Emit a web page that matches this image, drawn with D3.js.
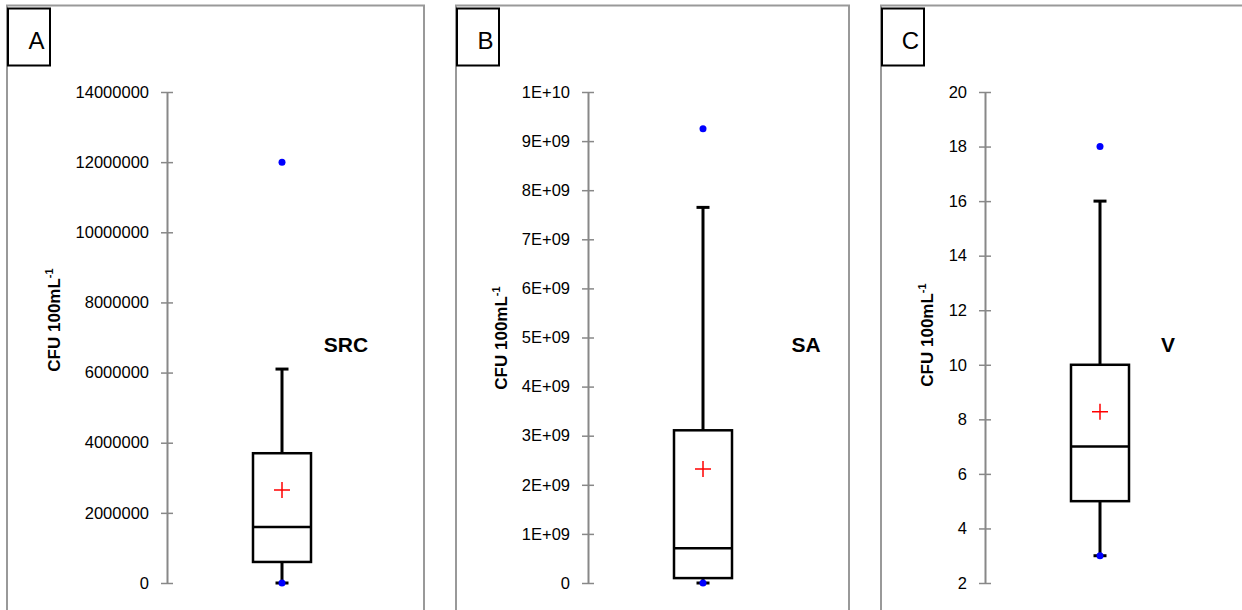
<!DOCTYPE html>
<html>
<head>
<meta charset="utf-8">
<script src="https://cdn.jsdelivr.net/npm/d3@7"></script>
<style>
  body { margin: 0; background: #fff; }
  text { font-family: "Liberation Sans", Arial, sans-serif; }
</style>
</head>
<body>
<div id="chart"></div>
<script>
  // Data

  const panelLetters = ["A", "B", "C"];
  const seriesNames = ["SRC", "SA", "V"];
  const minVals = [0, 0, 3];
  const q1Vals = [600000, 100000000, 5];
  const medianVals = [1600000, 710000000, 7];
  const q3Vals = [3700000, 3110000000, 10];
  const maxVals = [6100000, 7650000000, 16];
  const meanVals = [2650000, 2320000000, 8.28];
  const outlierVals = [12000000, 9250000000, 18];

  const yDomains = [[0, 14000000], [0, 10000000000], [2, 20]];
  const tickA = [0, 2000000, 4000000, 6000000, 8000000, 10000000, 12000000, 14000000];
  const tickB = [0, 1e9, 2e9, 3e9, 4e9, 5e9, 6e9, 7e9, 8e9, 9e9, 1e10];
  const tickC = [2, 4, 6, 8, 10, 12, 14, 16, 18, 20];
  const tickLists = [tickA, tickB, tickC];

  // Layout

  const width = 1242;
  const height = 610;
  const panelLeft = [7, 456, 881];
  const panelRight = [424, 849, 1260];
  const axisX = [167, 588, 985];
  const titleX = [60, 507, 933];
  const titleY = [320, 338, 335];
  const seriesLabelX = [346, 806, 1168];
  const plotTop = 92;
  const plotBottom = 583;
  const boxWidth = 58;
  const capWidth = 13;

  function formatB(d) {
    if (d === 0) return "0";
    const e = Math.floor(Math.log10(d));
    const m = Math.round(d / Math.pow(10, e));
    return m + "E+" + (e < 10 ? "0" + e : e);
  }
  const formats = [d3.format("d"), formatB, d3.format("d")];

  const svg = d3.select("#chart")
    .append("svg")
    .attr("width", width)
    .attr("height", height);

  panelLetters.forEach((letter, i) => {
    const g = svg.append("g");

    // Frame

    g.append("rect")
      .attr("x", panelLeft[i])
      .attr("y", 5.5)
      .attr("width", panelRight[i] - panelLeft[i])
      .attr("height", 700)
      .attr("fill", "none")
      .attr("stroke", "#999")
      .attr("stroke-width", 2);

    g.append("rect")
      .attr("x", panelLeft[i] + 1)
      .attr("y", 8.5)
      .attr("width", 42)
      .attr("height", 57)
      .attr("fill", "#fff")
      .attr("stroke", "#000")
      .attr("stroke-width", 2);

    g.append("text")
      .attr("x", panelLeft[i] + 29.5)
      .attr("y", 49)
      .attr("text-anchor", "middle")
      .attr("font-size", 24)
      .text(letter);

    // Scales

    const y = d3.scaleLinear()
      .domain(yDomains[i])
      .range([plotBottom, plotTop]);

    const x = d3.scaleBand()
      .domain([seriesNames[i]])
      .range([axisX[i], axisX[i] + 230]);

    const cx = x(seriesNames[i]) + x.bandwidth() / 2;

    // Axis

    const yAxis = d3.axisLeft(y)
      .tickValues(tickLists[i])
      .tickFormat(formats[i])
      .tickSizeInner(6)
      .tickSizeOuter(0)
      .tickPadding(12);

    const gy = g.append("g")
      .attr("transform", `translate(${axisX[i]}, 0)`)
      .call(yAxis);

    gy.select(".domain")
      .attr("stroke", "#888")
      .attr("stroke-width", 2);
    gy.selectAll(".tick line")
      .attr("x1", -6)
      .attr("x2", 6)
      .attr("stroke", "#888")
      .attr("stroke-width", 1.5);
    gy.selectAll(".tick text")
      .attr("fill", "#000")
      .attr("font-size", 16.5)
      .attr("font-family", "Liberation Sans, Arial, sans-serif");

    // Axis title

    const title = g.append("text")
      .attr("transform", `translate(${titleX[i]}, ${titleY[i]}) rotate(-90)`)
      .attr("text-anchor", "middle")
      .attr("font-size", 17)
      .attr("font-weight", "bold");
    title.append("tspan").text("CFU 100mL");
    title.append("tspan")
      .attr("font-size", 11)
      .attr("dy", -7)
      .text("-1");

    // Box and whiskers

    g.append("line")
      .attr("x1", cx).attr("x2", cx)
      .attr("y1", y(q3Vals[i])).attr("y2", y(maxVals[i]))
      .attr("stroke", "#000").attr("stroke-width", 3);
    g.append("line")
      .attr("x1", cx).attr("x2", cx)
      .attr("y1", y(q1Vals[i])).attr("y2", y(minVals[i]))
      .attr("stroke", "#000").attr("stroke-width", 3);

    [minVals[i], maxVals[i]].forEach(v => {
      g.append("line")
        .attr("x1", cx - capWidth / 2).attr("x2", cx + capWidth / 2)
        .attr("y1", y(v)).attr("y2", y(v))
        .attr("stroke", "#000").attr("stroke-width", 3);
    });

    g.append("rect")
      .attr("x", cx - boxWidth / 2)
      .attr("y", y(q3Vals[i]))
      .attr("width", boxWidth)
      .attr("height", y(q1Vals[i]) - y(q3Vals[i]))
      .attr("fill", "none")
      .attr("stroke", "#000")
      .attr("stroke-width", 2.5);

    g.append("line")
      .attr("x1", cx - boxWidth / 2).attr("x2", cx + boxWidth / 2)
      .attr("y1", y(medianVals[i])).attr("y2", y(medianVals[i]))
      .attr("stroke", "#000").attr("stroke-width", 2.5);

    // Mean cross

    const my = y(meanVals[i]);
    g.append("path")
      .attr("d", `M${cx - 8},${my}H${cx + 8}M${cx},${my - 8}V${my + 8}`)
      .attr("stroke", "#f00")
      .attr("stroke-width", 1.5);

    // Min and outlier dots

    g.selectAll("circle.dot")
      .data([minVals[i], outlierVals[i]])
      .join("circle")
      .attr("class", "dot")
      .attr("cx", cx)
      .attr("cy", d => y(d))
      .attr("r", 3.5)
      .attr("fill", "#00f");

    // Series label

    g.append("text")
      .attr("x", seriesLabelX[i])
      .attr("y", 352)
      .attr("text-anchor", "middle")
      .attr("font-size", 21)
      .attr("font-weight", "bold")
      .text(seriesNames[i]);
  });
</script>
</body>
</html>
